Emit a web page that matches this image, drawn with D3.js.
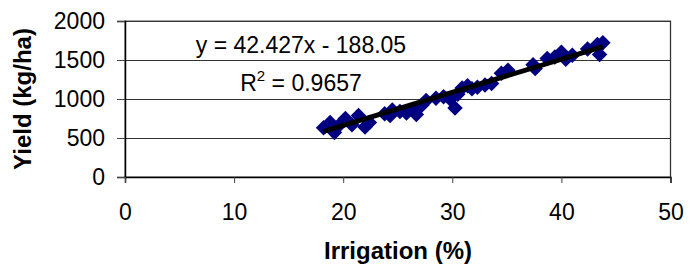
<!DOCTYPE html>
<html>
<head>
<meta charset="utf-8">
<script src="https://cdn.jsdelivr.net/npm/d3@7"></script>
<style>
  body { margin: 0; background: #fff; }
  text { font-family: "Liberation Sans", Arial, sans-serif; fill: #000; }
</style>
</head>
<body>
<svg id="chart" width="690" height="271"></svg>
<script>
// irrigation (%) and yield (kg/ha)
const irrigation = [18.2, 18.8, 19.2, 19.6, 20.2, 20.8, 21.4, 22.0, 22.4, 23.8, 24.3, 24.5, 25.2, 25.8, 26.4, 26.7,
    27.2, 27.6, 28.5, 29.2, 29.8, 30.25, 30.5, 30.9, 31.4, 31.8, 32.3, 33.0, 33.6, 34.5, 35.1,
    37.4, 37.6, 38.7, 39.4, 40.0, 40.4, 41.0, 42.4, 43.3, 43.5, 43.8];
const yieldKg = [630, 700, 570, 660, 750, 670, 790, 640, 700, 810, 790, 860, 840, 820, 870, 800,
    920, 980, 1010, 1030, 1000, 885, 1060, 1140, 1170, 1130, 1150, 1180, 1200, 1330, 1370,
    1440, 1390, 1520, 1540, 1600, 1510, 1560, 1640, 1700, 1570, 1720];
const xTicks = [0, 10, 20, 30, 40, 50];
const yTicks = [0, 500, 1000, 1500, 2000];
const slope = 42.427, intercept = -188.05, r2 = "0.9657";

const svg = d3.select("#chart");
const m = { left: 125, right: 670.5, top: 21, bottom: 177 };

const x = d3.scaleLinear().domain([0, 50]).range([m.left, m.right]);
const y = d3.scaleLinear().domain([0, 2000]).range([m.bottom, m.top]);

// plot area border
svg.append("rect")
    .attr("x", m.left).attr("y", m.top)
    .attr("width", m.right - m.left).attr("height", m.bottom - m.top)
    .attr("fill", "none").attr("stroke", "#8a8a8a").attr("stroke-width", 1.5);

// gridlines
svg.append("g").selectAll("line").data(yTicks.slice(1)).join("line")
    .attr("x1", m.left).attr("x2", m.right)
    .attr("y1", d => Math.round(y(d)) + 0.5).attr("y2", d => Math.round(y(d)) + 0.5)
    .attr("stroke", "#333");
svg.append("line")
    .attr("x1", m.right).attr("x2", m.right).attr("y1", m.top).attr("y2", m.bottom)
    .attr("stroke", "#333");

// axes
const yAxis = svg.append("g").attr("transform", `translate(${m.left},0)`)
    .call(d3.axisLeft(y).tickValues(yTicks).tickFormat(d3.format("d")).tickSize(8).tickPadding(12));
const xAxis = svg.append("g").attr("transform", `translate(0,${m.bottom})`)
    .call(d3.axisBottom(x).tickValues(xTicks).tickFormat(d3.format("d")).tickSize(6).tickPadding(21));
[xAxis, yAxis].forEach(a => {
    a.attr("font-size", 23).attr("font-family", "Liberation Sans, Arial, sans-serif");
    a.select(".domain").attr("stroke", "#000").attr("stroke-width", 1.5);
    a.selectAll(".tick line").attr("stroke", "#444");
});

// points
const diamond = d3.symbol().type(d3.symbolSquare).size(120);
svg.append("g").selectAll("path").data(irrigation).join("path")
    .attr("d", diamond)
    .attr("transform", (d, i) => `translate(${x(d)},${y(yieldKg[i])}) rotate(45)`)
    .attr("fill", "#000080");

// trend line
const [x0, x1] = d3.extent(irrigation);
svg.append("line")
    .attr("x1", x(x0)).attr("y1", y(slope * x0 + intercept))
    .attr("x2", x(x1)).attr("y2", y(slope * x1 + intercept))
    .attr("stroke", "#000").attr("stroke-width", 5);

// equation
svg.append("text").attr("x", 301).attr("y", 53).attr("text-anchor", "middle")
    .attr("font-size", 23).text(`y = ${slope}x - ${Math.abs(intercept).toFixed(2)}`);
const r = svg.append("text").attr("x", 301).attr("y", 91).attr("text-anchor", "middle").attr("font-size", 23);
r.append("tspan").text("R");
r.append("tspan").attr("dy", -10).attr("font-size", 15).text("2");
r.append("tspan").attr("dy", 10).text(` = ${r2}`);

// axis titles
svg.append("text").attr("x", 398).attr("y", 259).attr("text-anchor", "middle")
    .attr("font-size", 24).attr("font-weight", "bold").text("Irrigation (%)");
svg.append("text").attr("transform", "translate(31,99) rotate(-90)").attr("text-anchor", "middle")
    .attr("font-size", 24).attr("font-weight", "bold").text("Yield (kg/ha)");
</script>
</body>
</html>
